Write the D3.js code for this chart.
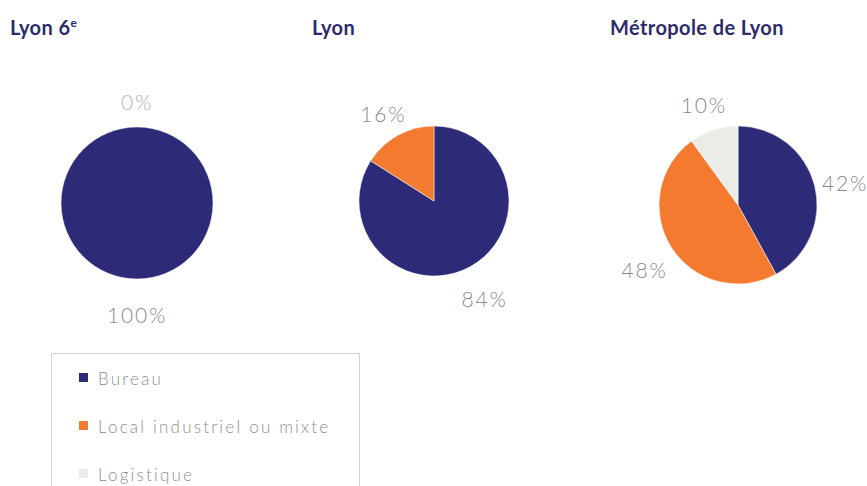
<!DOCTYPE html>
<html>
<head>
<meta charset="utf-8">
<script src="https://cdn.jsdelivr.net/npm/d3@7"></script>
<style>
  body { margin: 0; background: #fff; }
  svg { display: block; }
</style>
</head>
<body>
<svg id="chart"></svg>
<script>
// data (null = no label shown)
var categories = ["Bureau", "Local industriel ou mixte", "Logistique"]
var zones = ["Lyon 6", "Lyon", "Métropole de Lyon"]
var lyon6 = [100, 0, 0]
var lyon = [84, 16, null]
var metropole = [42, 48, 10]
var series = [lyon6, lyon, metropole]

var dimensions = {
    width: 867,
    height: 486,
    centers: [[137, 203], [434, 201], [738, 205]],
    radii: [76, 75, 79]
}

var svg = d3.select("#chart")
            .attr("width", dimensions.width)
            .attr("height", dimensions.height)

var colorScale = d3.scaleOrdinal()
            .domain(categories)
            .range(["#2d2a78", "#f47a30", "#ebebe8"])

// one column per zone
var xScale = d3.scaleBand()
            .domain(zones)
            .range([10, 910])

var pie = d3.pie().sort(null).value(d => d.value || 0)

zones.forEach(function(zone, i) {
    var title = svg.append("text")
        .attr("x", xScale(zone) + (i == 1 ? 2 : 0))
        .attr("y", 35)
        .style("font-family", "Lato, sans-serif")
        .style("font-weight", "bold")
        .style("font-size", "20px")
        .style("letter-spacing", "0.4px")
        .attr("fill", "#2d2c6a")
        .text(zone)
    if (i == 0) {
        title.append("tspan")
            .attr("dy", -8)
            .style("font-size", "12px")
            .text("e")
    }

    var r = dimensions.radii[i]
    var arc = d3.arc().innerRadius(0).outerRadius(r)
    var labelArc = d3.arc().innerRadius(r * 1.4).outerRadius(r * 1.4)

    var data = categories.map((c, j) => ({ key: c, value: series[i][j] }))
    var arcs = pie(data)

    var g = svg.append("g")
        .attr("transform", "translate(" + dimensions.centers[i][0] + "," + dimensions.centers[i][1] + ")")

    g.selectAll("path")
        .data(arcs.filter(d => d.data.value > 0))
        .enter()
        .append("path")
        .attr("d", arc)
        .attr("fill", d => colorScale(d.data.key))
        .attr("stroke", "#fff")
        .attr("stroke-width", 0.5)

    // labels for every known value, zero slices faded
    g.selectAll("text")
        .data(arcs.filter(d => d.data.value != null))
        .enter()
        .append("text")
        .attr("transform", function(d) {
            var c = labelArc.centroid(d)
            return "translate(" + c[0] + "," + (c[1] + 5) + ")"
        })
        .attr("text-anchor", "middle")
        .attr("dominant-baseline", "central")
        .style("font-family", "Lato, sans-serif")
        .style("font-weight", 300)
        .style("font-size", "21px")
        .style("letter-spacing", "1.8px")
        .attr("fill", d => d.data.value > 0 ? "#8a8a8a" : "#cacaca")
        .text(d => d.data.value + "%")
})

// legend
var legend = svg.append("g")

legend.append("rect")
    .attr("x", 51.5)
    .attr("y", 353.5)
    .attr("width", 308)
    .attr("height", 150)
    .attr("fill", "#fff")
    .attr("stroke", "#d2d2d2")

legend.selectAll("rect.sw")
    .data(categories)
    .enter()
    .append("rect")
    .attr("class", "sw")
    .attr("x", 79)
    .attr("y", (d, i) => 373 + i * 48)
    .attr("width", 9)
    .attr("height", 9)
    .attr("fill", d => colorScale(d))

legend.selectAll("text")
    .data(categories)
    .enter()
    .append("text")
    .attr("x", 98)
    .attr("y", (d, i) => 378 + i * 48)
    .attr("dominant-baseline", "central")
    .style("font-family", "Lato, sans-serif")
    .style("font-weight", 300)
    .style("font-size", "17px")
    .style("letter-spacing", "2.2px")
    .attr("fill", "#8f8f8f")
    .text(d => d)
</script>
</body>
</html>
